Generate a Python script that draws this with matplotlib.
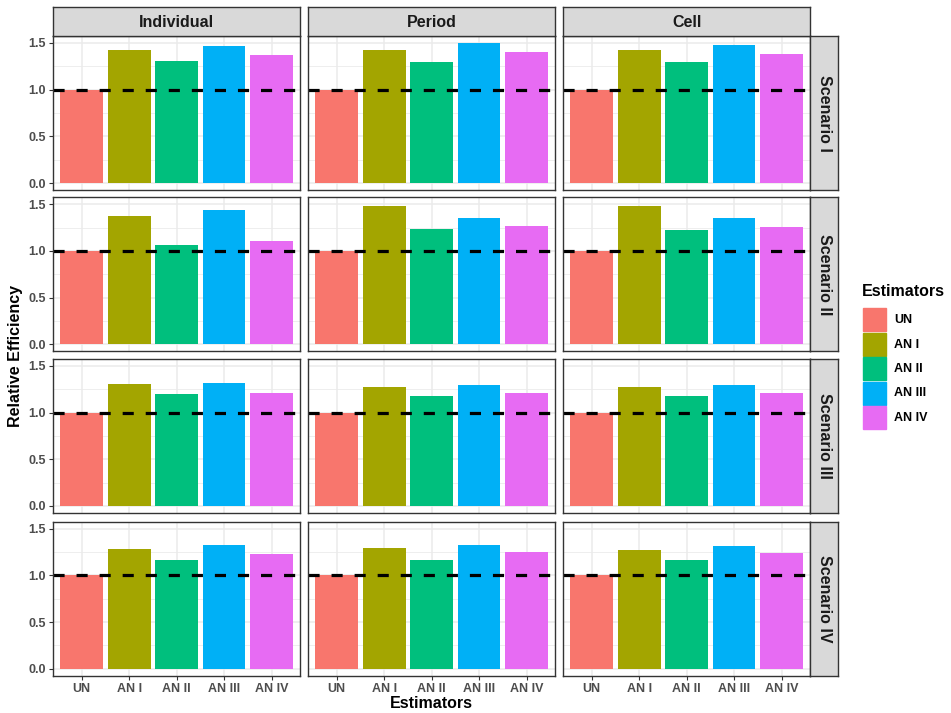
import matplotlib
matplotlib.use("Agg")
import matplotlib.pyplot as plt
from matplotlib.patches import Rectangle

plt.rcParams['font.family'] = ['Liberation Sans', 'DejaVu Sans']
plt.rcParams['lines.scale_dashes'] = False

# data
estimators = ["UN", "AN I", "AN II", "AN III", "AN IV"]
designs = ["Individual", "Period", "Cell"]
scenarios = ["Scenario I", "Scenario II", "Scenario III", "Scenario IV"]
colors = ["#F8766D", "#A3A500", "#00BF7D", "#00B0F6", "#E76BF3"]

individual = [
    [1.00, 1.43, 1.31, 1.47, 1.37],
    [1.00, 1.38, 1.06, 1.44, 1.11],
    [1.00, 1.31, 1.20, 1.32, 1.21],
    [1.00, 1.28, 1.17, 1.33, 1.23],
]
period = [
    [1.00, 1.43, 1.30, 1.50, 1.40],
    [1.00, 1.48, 1.24, 1.35, 1.27],
    [1.00, 1.28, 1.18, 1.30, 1.21],
    [1.00, 1.29, 1.17, 1.33, 1.25],
]
cell = [
    [1.00, 1.43, 1.30, 1.48, 1.38],
    [1.00, 1.48, 1.22, 1.35, 1.26],
    [1.00, 1.27, 1.18, 1.30, 1.21],
    [1.00, 1.27, 1.16, 1.31, 1.24],
]
values = {"Individual": individual, "Period": period, "Cell": cell}
yticks = [0.0, 0.5, 1.0, 1.5]

###################################

W, H = 951, 713
fig = plt.figure(figsize=(W / 100, H / 100), dpi=100)

def px_axes(x, y, w, h):
    # pixel box (top-left origin) -> figure axes
    return fig.add_axes([x / W, 1 - (y + h) / H, w / W, h / H])

col_left = [53.3, 308.3, 563.3]
panel_w = 246.7
row_top = [36.0, 197.3, 359.0, 521.7]
panel_h = 154.0
strip_h = 29.0
strip_w = 28.0

ymax = max(max(max(r) for r in v) for v in values.values())
ylo, yhi = -0.05 * ymax, ymax * 1.05
xs = list(range(1, len(estimators) + 1))

for r, scen in enumerate(scenarios):
    for c, des in enumerate(designs):
        ax = px_axes(col_left[c], row_top[r], panel_w, panel_h)
        vals = values[des][r]
        ax.bar(xs, vals, width=0.9, color=colors, zorder=2)
        ax.axhline(1.0, color="black", lw=2.3, dashes=(8, 8.6), zorder=3)
        ax.set_xlim(0.4, 5.6)
        ax.set_ylim(ylo, yhi)
        ax.set_yticks(yticks)
        ax.set_yticks([0.25, 0.75, 1.25], minor=True)
        ax.set_xticks(xs)
        ax.grid(which="major", color="#EBEBEB", lw=1.1, zorder=0)
        ax.grid(which="minor", axis="y", color="#EBEBEB", lw=0.6, zorder=0)
        for s in ax.spines.values():
            s.set_color("#333333")
            s.set_linewidth(1.0)
            s.set_zorder(4)
        ax.tick_params(colors="#333333", length=3, width=0.8, labelsize=9,
                       labelcolor="#4D4D4D", pad=2.5)
        ax.tick_params(which="minor", length=0)
        if c == 0:
            ax.set_yticklabels([f"{t:.1f}" for t in yticks], fontweight="bold")
        else:
            ax.set_yticklabels([])
            ax.tick_params(axis="y", length=0)
        if r == len(scenarios) - 1:
            ax.set_xticklabels(estimators, fontweight="bold")
        else:
            ax.set_xticklabels([])
            ax.tick_params(axis="x", length=0)

        # top strips
        if r == 0:
            sax = px_axes(col_left[c], row_top[0] - strip_h, panel_w, strip_h)
            sax.set_xticks([]); sax.set_yticks([])
            sax.set_facecolor("#D9D9D9")
            for s in sax.spines.values():
                s.set_color("#333333"); s.set_linewidth(1.0)
            sax.text(0.5, 0.47, des, ha="center", va="center", fontsize=11.5,
                     fontweight="bold", color="#1A1A1A", transform=sax.transAxes)
        # right strips
        if c == len(designs) - 1:
            sax = px_axes(col_left[c] + panel_w, row_top[r], strip_w, panel_h)
            sax.set_xticks([]); sax.set_yticks([])
            sax.set_facecolor("#D9D9D9")
            for s in sax.spines.values():
                s.set_color("#333333"); s.set_linewidth(1.0)
            sax.text(0.5, 0.5, scen, ha="center", va="center", fontsize=11.5,
                     fontweight="bold", color="#1A1A1A", rotation=-90,
                     transform=sax.transAxes)

# axis titles
fig.text(16 / W, 1 - 356 / H, "Relative Efficiency", rotation=90, ha="center",
         va="center", fontsize=11.5, fontweight="bold")
fig.text(431 / W, 1 - 704 / H, "Estimators", ha="center", va="center",
         fontsize=11.5, fontweight="bold")

# legend
fig.text(862 / W, 1 - 291 / H, "Estimators", ha="left", va="center",
         fontsize=11.5, fontweight="bold")
for i, (lab, col) in enumerate(zip(estimators, colors)):
    y0 = 308 + i * 24.5
    fig.patches.append(Rectangle((863 / W, 1 - (y0 + 23) / H), 23 / W, 23 / H,
                                 transform=fig.transFigure, color=col))
    fig.text(894 / W, 1 - (y0 + 12) / H, lab, ha="left", va="center",
             fontsize=9, fontweight="bold")

fig.savefig("out.png", dpi=100)
